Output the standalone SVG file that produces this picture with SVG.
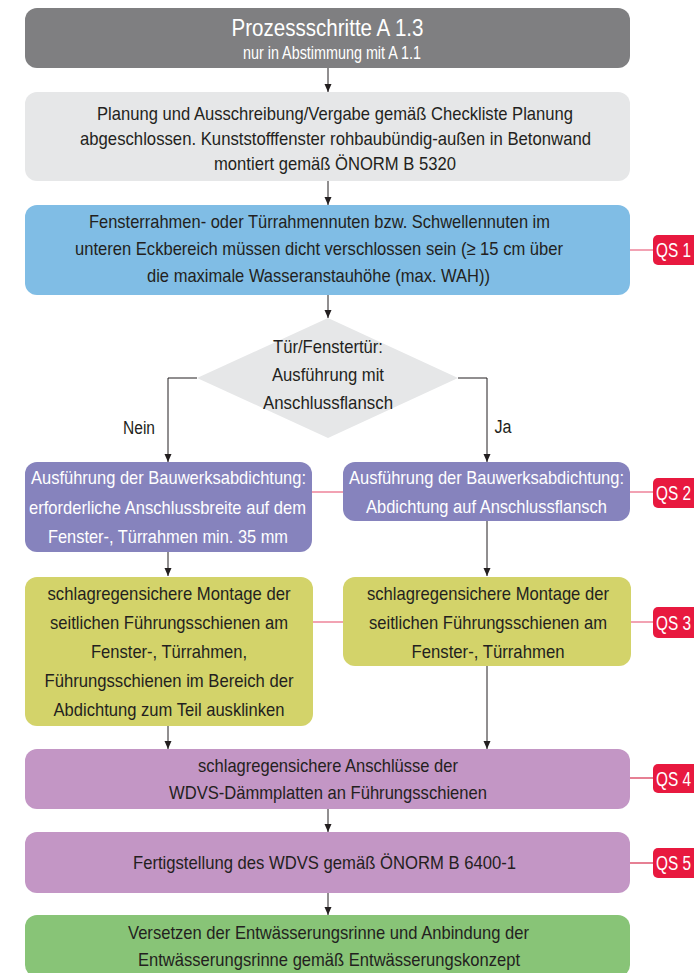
<svg xmlns="http://www.w3.org/2000/svg" width="694" height="973" viewBox="0 0 694 973">
<defs>
<marker id="ah" viewBox="0 0 8 8" markerWidth="8" markerHeight="8" refX="8" refY="4" orient="auto" markerUnits="userSpaceOnUse">
<path d="M0,0.5 L8,4 L0,7.5 z" fill="#231f20"/>
</marker>
<style>
text{font-family:"Liberation Sans Narrow","Liberation Sans",Arial,sans-serif;text-anchor:middle;fill:#231f20;font-size:19px}
.w{fill:#ffffff}
.qs text{fill:#ffffff;text-anchor:start;font-size:20px}
.qs rect{fill:#e8193f}
.arr{fill:none;stroke:#231f20;stroke-width:1;marker-end:url(#ah)}
.ql{fill:none;stroke:#ea6580;stroke-width:1.2}
.qd{fill:none;stroke:#d52a4c;stroke-width:1.2}
</style>
</defs>
<rect width="694" height="973" fill="#ffffff"/>

<g id="connectors">
<line class="arr" x1="328" y1="68" x2="328" y2="92"/>
<line class="arr" x1="328" y1="181" x2="328" y2="205"/>
<line class="arr" x1="328" y1="295" x2="328" y2="318"/>
<polyline class="arr" points="197,378 168,378 168,462"/>
<polyline class="arr" points="458,378 487,378 487,462"/>
<line class="arr" x1="168" y1="552" x2="168" y2="576"/>
<line class="arr" x1="487" y1="521" x2="487" y2="576"/>
<line class="arr" x1="168" y1="726" x2="168" y2="749"/>
<line class="arr" x1="487" y1="666" x2="487" y2="749"/>
<line class="arr" x1="328" y1="809" x2="328" y2="832"/>
<line class="arr" x1="328" y1="893" x2="328" y2="915"/>
<line class="ql" x1="630" y1="250" x2="653" y2="250"/>
<line class="ql" x1="312" y1="492" x2="343" y2="492"/>
<line class="ql" x1="630" y1="492" x2="653" y2="492"/>
<line class="ql" x1="313" y1="622" x2="343" y2="622"/>
<line class="ql" x1="631" y1="622" x2="653" y2="622"/>
<line class="qd" x1="630" y1="778" x2="653" y2="778"/>
<line class="qd" x1="630" y1="863" x2="653" y2="863"/>
<text x="139" y="434" style="font-size:18px" textLength="32" lengthAdjust="spacingAndGlyphs">Nein</text>
<text x="503" y="433" style="font-size:18px" textLength="17" lengthAdjust="spacingAndGlyphs">Ja</text>
</g>

<g id="header">
<rect x="25" y="8" width="605" height="60" rx="12" fill="#7f7f81"/>
<text class="w" x="327.5" y="36" style="font-size:24px" textLength="192" lengthAdjust="spacingAndGlyphs">Prozessschritte A 1.3</text>
<text class="w" x="332" y="59" style="font-size:18px" textLength="178" lengthAdjust="spacingAndGlyphs">nur in Abstimmung mit A 1.1</text>
</g>

<g id="planung">
<rect x="25" y="92" width="605" height="89" rx="12" fill="#e6e7e8"/>
<text x="335" y="120" textLength="476" lengthAdjust="spacingAndGlyphs">Planung und Ausschreibung/Vergabe gemäß Checkliste Planung</text>
<text x="335.5" y="145" textLength="511" lengthAdjust="spacingAndGlyphs">abgeschlossen. Kunststofffenster rohbaubündig-außen in Betonwand</text>
<text x="335" y="170" textLength="242" lengthAdjust="spacingAndGlyphs">montiert gemäß ÖNORM B 5320</text>
</g>

<g id="nuten">
<rect x="25" y="205" width="605" height="90" rx="12" fill="#80bde5"/>
<text x="319.5" y="228" textLength="461" lengthAdjust="spacingAndGlyphs">Fensterrahmen- oder Türrahmennuten bzw. Schwellennuten im</text>
<text x="319" y="255" textLength="488" lengthAdjust="spacingAndGlyphs">unteren Eckbereich müssen dicht verschlossen sein (≥ 15 cm über</text>
<text x="318.5" y="282" textLength="343" lengthAdjust="spacingAndGlyphs">die maximale Wasseranstauhöhe (max. WAH))</text>
</g>

<g id="qs1" class="qs"><rect x="653" y="235" width="50" height="30" rx="5"/><text x="656" y="257" textLength="35" lengthAdjust="spacingAndGlyphs">QS 1</text></g>

<g id="entscheidung">
<polygon points="328,318 458,378 328,438 197,378" fill="#e6e7e8"/>
<text x="328" y="353" textLength="110" lengthAdjust="spacingAndGlyphs">Tür/Fenstertür:</text>
<text x="328" y="381" textLength="112" lengthAdjust="spacingAndGlyphs">Ausführung mit</text>
<text x="328" y="409" textLength="130" lengthAdjust="spacingAndGlyphs">Anschlussflansch</text>
</g>

<g id="abdichtung-nein">
<rect x="25" y="462" width="287" height="90" rx="12" fill="#8683bd"/>
<text class="w" x="168.5" y="484" textLength="275" lengthAdjust="spacingAndGlyphs">Ausführung der Bauwerksabdichtung:</text>
<text class="w" x="167.5" y="514" textLength="277" lengthAdjust="spacingAndGlyphs">erforderliche Anschlussbreite auf dem</text>
<text class="w" x="168" y="543" textLength="240" lengthAdjust="spacingAndGlyphs">Fenster-, Türrahmen min. 35 mm</text>
</g>

<g id="abdichtung-ja">
<rect x="343" y="462" width="287" height="59" rx="12" fill="#8683bd"/>
<text class="w" x="486.5" y="484" textLength="275" lengthAdjust="spacingAndGlyphs">Ausführung der Bauwerksabdichtung:</text>
<text class="w" x="486.5" y="513" textLength="241" lengthAdjust="spacingAndGlyphs">Abdichtung auf Anschlussflansch</text>
</g>

<g id="qs2" class="qs"><rect x="653" y="478" width="50" height="30" rx="5"/><text x="656" y="500" textLength="35" lengthAdjust="spacingAndGlyphs">QS 2</text></g>

<g id="montage-nein">
<rect x="25" y="577" width="288" height="149" rx="12" fill="#d3d36a"/>
<text x="169" y="600" textLength="243" lengthAdjust="spacingAndGlyphs">schlagregensichere Montage der</text>
<text x="169" y="629" textLength="238" lengthAdjust="spacingAndGlyphs">seitlichen Führungsschienen am</text>
<text x="169" y="658" textLength="156" lengthAdjust="spacingAndGlyphs">Fenster-, Türrahmen,</text>
<text x="169" y="687" textLength="249" lengthAdjust="spacingAndGlyphs">Führungsschienen im Bereich der</text>
<text x="169" y="716" textLength="231" lengthAdjust="spacingAndGlyphs">Abdichtung zum Teil ausklinken</text>
</g>

<g id="montage-ja">
<rect x="343" y="577" width="288" height="89" rx="12" fill="#d3d36a"/>
<text x="488" y="600" textLength="242" lengthAdjust="spacingAndGlyphs">schlagregensichere Montage der</text>
<text x="488" y="629" textLength="238" lengthAdjust="spacingAndGlyphs">seitlichen Führungsschienen am</text>
<text x="488" y="658" textLength="153" lengthAdjust="spacingAndGlyphs">Fenster-, Türrahmen</text>
</g>

<g id="qs3" class="qs"><rect x="653" y="607" width="50" height="31" rx="5"/><text x="656" y="630" textLength="35" lengthAdjust="spacingAndGlyphs">QS 3</text></g>

<g id="anschluesse">
<rect x="25" y="749" width="605" height="60" rx="12" fill="#c396c5"/>
<text x="328" y="772" textLength="260" lengthAdjust="spacingAndGlyphs">schlagregensichere Anschlüsse der</text>
<text x="328" y="799" textLength="318" lengthAdjust="spacingAndGlyphs">WDVS-Dämmplatten an Führungsschienen</text>
</g>

<g id="qs4" class="qs"><rect x="653" y="764" width="50" height="29" rx="5"/><text x="656" y="786" textLength="35" lengthAdjust="spacingAndGlyphs">QS 4</text></g>

<g id="wdvs">
<rect x="25" y="832" width="605" height="61" rx="12" fill="#c396c5"/>
<text x="324.5" y="869" textLength="383" lengthAdjust="spacingAndGlyphs">Fertigstellung des WDVS gemäß ÖNORM B 6400-1</text>
</g>

<g id="qs5" class="qs"><rect x="653" y="848" width="50" height="30" rx="5"/><text x="656" y="870" textLength="35" lengthAdjust="spacingAndGlyphs">QS 5</text></g>

<g id="entwaesserung">
<rect x="25" y="915" width="605" height="62" rx="12" fill="#88c477"/>
<text x="328.5" y="939" textLength="401" lengthAdjust="spacingAndGlyphs">Versetzen der Entwässerungsrinne und Anbindung der</text>
<text x="329" y="966" textLength="382" lengthAdjust="spacingAndGlyphs">Entwässerungsrinne gemäß Entwässerungskonzept</text>
</g>
</svg>
